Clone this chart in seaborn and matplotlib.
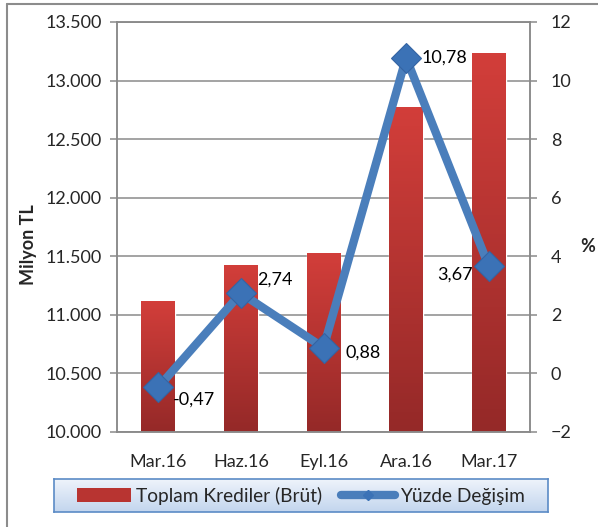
import numpy as np
import matplotlib
matplotlib.use("Agg")
import matplotlib.pyplot as plt
import seaborn as sns
from matplotlib.lines import Line2D
from matplotlib.patches import Patch
from matplotlib.colors import LinearSegmentedColormap
from matplotlib.ticker import FuncFormatter, FixedLocator, MultipleLocator

# ── data ────────────────────────────────────────────────────
periods = ["Mar.16", "Haz.16", "Eyl.16", "Ara.16", "Mar.17"]
loans = [11118, 11426, 11528, 12775, 13236]          # Milyon TL
pct_change = [-0.47, 2.74, 0.88, 10.78, 3.67]         # %
pct_labels = ["-0,47", "2,74", "0,88", "10,78", "3,67"]
label_offsets = [(15, -12), (16, 14), (22, -5), (15, 0), (-16, -9)]
label_ha = ["left", "left", "left", "left", "right"]

bar_name = "Toplam Krediler (Brüt)"
line_name = "Yüzde Değişim"

# ── style ───────────────────────────────────────────────────
sns.set_style("white")
plt.rcParams["font.family"] = ["Lato", "DejaVu Sans"]
plt.rcParams["font.size"] = 13

grid_col = "#8A8A8A"
red_top, red_bot = "#D23E3A", "#952928"
blue = "#4A7EBB"

fig = plt.figure(figsize=(5.98, 5.27), dpi=100)
ax = fig.add_axes([117 / 598, 1 - 432 / 527, 413 / 598, 410 / 527])

# ── bars (seaborn, then a vertical gradient clipped to each bar) ──
sns.barplot(x=periods, y=loans, ax=ax, color=red_top, width=0.41,
            saturation=1, zorder=2)
ax.set_xlim(-0.5, len(periods) - 0.5)
ax.set_ylim(10000, 13500)
y_lo = ax.get_ylim()[0]

grad = LinearSegmentedColormap.from_list("redgrad", [red_bot, red_top])
for p in ax.patches:
    x0, w, top = p.get_x(), p.get_width(), p.get_y() + p.get_height()
    im = ax.imshow(np.linspace(1, 0, 100)[:, None], cmap=grad, aspect="auto",
                   extent=[x0, x0 + w, y_lo, top], zorder=2.5)
    im.set_clip_path(p)
ax.set_xlim(-0.5, len(periods) - 0.5)
ax.set_ylim(10000, 13500)

ax.yaxis.set_major_locator(MultipleLocator(500))
ax.yaxis.set_major_formatter(FuncFormatter(lambda v, _: f"{v:,.0f}".replace(",", ".")))
ax.set_axisbelow(True)
ax.grid(axis="y", color=grid_col, lw=1.1)
ax.grid(axis="x", visible=False)

ax.xaxis.set_minor_locator(FixedLocator(np.arange(-0.5, len(periods), 1)))
ax.tick_params(axis="x", which="major", length=0, pad=16)
ax.tick_params(axis="x", which="minor", length=5, width=1.1, color=grid_col, direction="out")
ax.tick_params(axis="y", length=5, width=1.1, color=grid_col, direction="out", pad=6)

for s in ax.spines.values():
    s.set_color(grid_col)
    s.set_linewidth(1.1)

ax.set_ylabel("Milyon TL", fontweight="bold", fontsize=13)
ax.yaxis.set_label_coords(-0.194, 0.456)

# ── line on right axis ──────────────────────────────────────
ax2 = ax.twinx()
sns.lineplot(x=periods, y=pct_change, ax=ax2, sort=False, color=blue, lw=6,
             marker="D", markersize=15, markerfacecolor="#3B72B6",
             markeredgecolor="#3464A3", markeredgewidth=0.8, zorder=5)
ax2.set_ylim(-2, 12)
ax2.yaxis.set_major_locator(MultipleLocator(2))
ax2.tick_params(axis="y", length=5, width=1.1, color=grid_col, direction="out", pad=10)
for s in ax2.spines.values():
    s.set_color(grid_col)
    s.set_linewidth(1.1)
ax2.set_ylabel("%", fontweight="bold", fontsize=13, rotation=0)
ax2.yaxis.set_label_coords(1.14, 0.473)

for i, (v, lab) in enumerate(zip(pct_change, pct_labels)):
    ax2.annotate(lab, (i, v), xytext=label_offsets[i], textcoords="offset pixels",
                 ha=label_ha[i], va="center", fontsize=13, color="black", zorder=6)

# ── legend ──────────────────────────────────────────────────
lax = fig.add_axes([54 / 598, 1 - 512 / 527, 494 / 598, 33 / 527])
lgrad = LinearSegmentedColormap.from_list("bluegrad", ["#C3D6EE", "#EEF3FB"])
lax.imshow(np.linspace(0, 1, 50)[:, None], cmap=lgrad, aspect="auto",
           extent=[0, 1, 0, 1], origin="lower")
lax.set_xlim(0, 1)
lax.set_ylim(0, 1)
lax.set_xticks([])
lax.set_yticks([])
for s in lax.spines.values():
    s.set_color("#5B8BC6")
    s.set_linewidth(1.2)

handles = [
    Patch(facecolor="#B83431", edgecolor="none"),
    Line2D([], [], color=blue, lw=6, marker="D", markersize=5,
           markerfacecolor="#3B72B6", markeredgecolor="#3B72B6"),
]
lax.legend(handles, [bar_name, line_name], loc="center", ncol=2, frameon=False,
           fontsize=13.8, handlelength=2.8, handleheight=0.7, handletextpad=0.25,
           columnspacing=1.0, borderaxespad=0)

# ── outer chart border (left / top) ─────────────────────────
fig.add_artist(Line2D([7 / 598, 7 / 598], [0, 1 - 4 / 527], color="#8C8C8C", lw=1.5))
fig.add_artist(Line2D([7 / 598, 1], [1 - 4 / 527, 1 - 4 / 527], color="#8C8C8C", lw=1.5))

fig.savefig("out.png", dpi=100)
